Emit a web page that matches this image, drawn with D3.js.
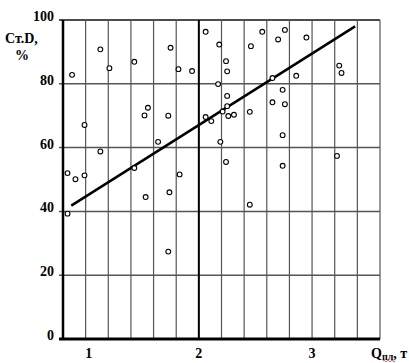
<!DOCTYPE html>
<html>
<head>
<meta charset="utf-8">
<script src="https://cdn.jsdelivr.net/npm/d3@7"></script>
<style>
  body { margin: 0; background: #fff; }
  text { font-family: "Liberation Serif", "Times New Roman", serif; font-weight: bold; fill: #000; }
</style>
</head>
<body>
<div id="chart"></div>
<script>
const w = 409;
const h = 363;

// Q (t) and St.D (%) of each point
const qValues = [
  0.88, 1.13, 1.21, 1.43, 1.75, 1.82, 1.94, 2.06, 2.18, 2.24,
  2.25, 2.17, 2.25, 1.55, 1.52, 1.73, 2.25, 2.21, 2.06, 2.26,
  2.31, 2.45, 2.46, 2.56, 2.76, 2.7, 2.95, 3.24, 3.26, 2.65,
  2.86, 2.74, 2.65, 2.76, 0.99, 1.13, 0.84, 0.91, 0.99, 0.84,
  1.43, 2.11, 1.64, 2.19, 2.24, 1.83, 1.53, 1.74, 2.45, 2.74,
  2.74, 3.22, 1.73
];
const stdValues = [
  82.8, 90.8, 84.9, 86.9, 91.3, 84.6, 84.0, 96.3, 92.3, 87.1,
  83.9, 79.9, 76.2, 72.5, 70.1, 70.0, 73.0, 71.3, 69.6, 69.9,
  70.3, 71.2, 91.8, 96.3, 96.9, 93.9, 94.5, 85.7, 83.4, 81.8,
  82.5, 78.1, 74.2, 73.6, 67.1, 58.8, 52.0, 50.1, 51.3, 39.3,
  53.6, 68.3, 61.8, 61.8, 55.5, 51.6, 44.5, 46.0, 42.1, 63.9,
  54.3, 57.4, 27.4
];
// trend line end points
const trendQ = [0.873, 3.38];
const trendStd = [41.8, 98.0];

const xTicks = [1, 2, 3];
const yTicks = [0, 20, 40, 60, 80, 100];
const xGrid = d3.range(4, 19).map((i) => i / 5);

const svg = d3.select("#chart").append("svg").attr("width", w).attr("height", h);

const xScale = d3.scaleLinear().domain([0.8, 3.6]).range([63, 380]);
const yScale = d3.scaleLinear().domain([0, 100]).range([339, 20]);

// horizontal grid
svg
  .selectAll(".hgrid")
  .data(yTicks.filter((d) => d > 0))
  .enter()
  .append("line")
  .attr("x1", xScale(0.8) - 4)
  .attr("x2", xScale(3.6))
  .attr("y1", (d) => yScale(d))
  .attr("y2", (d) => yScale(d))
  .attr("stroke", (d) => (d === 100 ? "#111" : "#555"))
  .attr("stroke-width", 1.5);

// vertical grid
svg
  .selectAll(".vgrid")
  .data(xGrid.slice(1))
  .enter()
  .append("line")
  .attr("x1", (d) => xScale(d))
  .attr("x2", (d) => xScale(d))
  .attr("y1", yScale(100))
  .attr("y2", yScale(0))
  .attr("stroke", (d) => (d === 2 ? "#000" : "#555"))
  .attr("stroke-width", (d) => (d === 2 ? 2 : 1.2));

// axes
svg
  .append("line")
  .attr("x1", xScale(0.8))
  .attr("x2", xScale(0.8))
  .attr("y1", yScale(100))
  .attr("y2", yScale(0) + 1)
  .attr("stroke", "#000")
  .attr("stroke-width", 2.5);
svg
  .append("line")
  .attr("x1", xScale(0.8) - 4)
  .attr("x2", xScale(3.6))
  .attr("y1", yScale(0))
  .attr("y2", yScale(0))
  .attr("stroke", "#000")
  .attr("stroke-width", 3);

// tick labels
svg
  .selectAll(".ylab")
  .data(yTicks)
  .enter()
  .append("text")
  .attr("x", 54)
  .attr("y", (d) => yScale(d) + 1)
  .attr("text-anchor", "end")
  .attr("font-size", 14)
  .text((d) => d);

svg
  .selectAll(".xlab")
  .data(xTicks)
  .enter()
  .append("text")
  .attr("x", (d) => xScale(d) + (d === 1 ? 3 : 0))
  .attr("y", 358)
  .attr("text-anchor", "middle")
  .attr("font-size", 14)
  .text((d) => d);

// axis titles
svg.append("text").attr("x", 5).attr("y", 43).attr("font-size", 14).text("Ст.D,");
svg.append("text").attr("x", 22).attr("y", 60).attr("text-anchor", "middle").attr("font-size", 14).text("%");

const xt = svg.append("text").attr("x", 371).attr("y", 358).attr("font-size", 14);
xt.append("tspan").text("Q");
xt.append("tspan").attr("font-size", 10).attr("dy", 2).text("пл");
xt.append("tspan").attr("dy", -2).text(", т");
svg
  .append("path")
  .attr("d", "M383,361 q1,-1.5 2,0 t2,0 t2,0 t2,0 t2,0 t2,0")
  .attr("fill", "none")
  .attr("stroke", "#d33")
  .attr("stroke-width", 0.8);

// trend line
svg
  .append("line")
  .attr("x1", xScale(trendQ[0]))
  .attr("y1", yScale(trendStd[0]))
  .attr("x2", xScale(trendQ[1]))
  .attr("y2", yScale(trendStd[1]))
  .attr("stroke", "#000")
  .attr("stroke-width", 2.5);

// points
svg
  .selectAll("circle")
  .data(qValues)
  .enter()
  .append("circle")
  .attr("cx", (d) => xScale(d))
  .attr("cy", (d, i) => yScale(stdValues[i]))
  .attr("r", 2.4)
  .attr("fill", "#fff")
  .attr("stroke", "#000")
  .attr("stroke-width", 1.1);
</script>
</body>
</html>
